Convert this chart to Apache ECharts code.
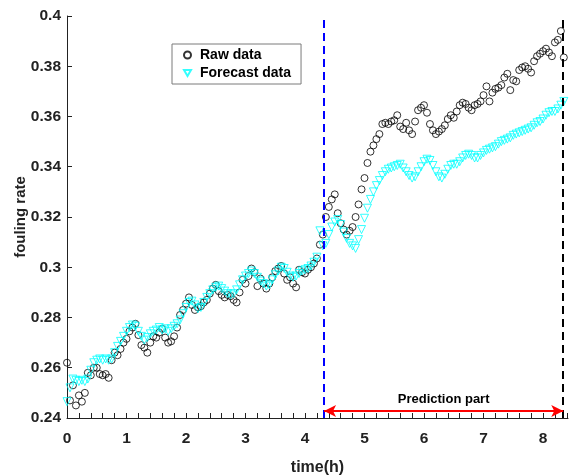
<!DOCTYPE html>
<html><head><meta charset="utf-8">
<script src="https://cdn.jsdelivr.net/npm/echarts@6/dist/echarts.min.js"></script>
<style>html,body{margin:0;padding:0;background:#fff}#c{width:570px;height:476px}</style>
</head><body><div id="c"></div>
<script>
const timeH = [
0,0.05,0.1,0.15,0.2,0.25,0.3,0.35,0.4,0.45,
0.5,0.55,0.6,0.65,0.7,0.75,0.8,0.85,0.9,0.95,
1,1.05,1.1,1.15,1.2,1.25,1.3,1.35,1.4,1.45,
1.5,1.55,1.6,1.65,1.7,1.75,1.8,1.85,1.9,1.95,
2,2.05,2.1,2.15,2.2,2.25,2.3,2.35,2.4,2.45,
2.5,2.55,2.6,2.65,2.7,2.75,2.8,2.85,2.9,2.95,
3,3.05,3.1,3.15,3.2,3.25,3.3,3.35,3.4,3.45,
3.5,3.55,3.6,3.65,3.7,3.75,3.8,3.85,3.9,3.95,
4,4.05,4.1,4.15,4.2,4.25,4.3,4.35,4.4,4.45,
4.5,4.55,4.6,4.65,4.7,4.75,4.8,4.85,4.9,4.95,
5,5.05,5.1,5.15,5.2,5.25,5.3,5.35,5.4,5.45,
5.5,5.55,5.6,5.65,5.7,5.75,5.8,5.85,5.9,5.95,
6,6.05,6.1,6.15,6.2,6.25,6.3,6.35,6.4,6.45,
6.5,6.55,6.6,6.65,6.7,6.75,6.8,6.85,6.9,6.95,
7,7.05,7.1,7.15,7.2,7.25,7.3,7.35,7.4,7.45,
7.5,7.55,7.6,7.65,7.7,7.75,7.8,7.85,7.9,7.95,
8,8.05,8.1,8.15,8.2,8.25,8.3,8.35];

const rawData = [
0.2620,0.2470,0.2530,0.2450,0.2490,0.2465,0.2500,0.2580,0.2570,0.2600,
0.2600,0.2575,0.2570,0.2575,0.2560,0.2630,0.2660,0.2650,0.2675,0.2700,
0.2715,0.2745,0.2760,0.2775,0.2730,0.2690,0.2680,0.2660,0.2700,0.2725,
0.2720,0.2740,0.2755,0.2720,0.2700,0.2705,0.2725,0.2760,0.2810,0.2830,
0.2855,0.2880,0.2850,0.2830,0.2840,0.2845,0.2860,0.2870,0.2895,0.2915,
0.2930,0.2905,0.2890,0.2880,0.2890,0.2885,0.2870,0.2860,0.2900,0.2950,
0.2935,0.2965,0.2995,0.2980,0.2925,0.2955,0.2935,0.2915,0.2935,0.2960,
0.2985,0.2995,0.3005,0.2975,0.2950,0.2960,0.2935,0.2920,0.2990,0.2980,
0.2975,0.2990,0.3000,0.3015,0.3035,0.3090,0.3130,0.3200,0.3240,0.3270,
0.3290,0.3215,0.3175,0.3150,0.3130,0.3145,0.3160,0.3200,0.3250,0.3310,
0.3355,0.3415,0.3460,0.3485,0.3510,0.3530,0.3570,0.3575,0.3570,0.3580,
0.3585,0.3605,0.3560,0.3550,0.3575,0.3545,0.3530,0.3580,0.3625,0.3635,
0.3645,0.3615,0.3570,0.3545,0.3530,0.3540,0.3550,0.3565,0.3590,0.3605,
0.3595,0.3620,0.3645,0.3655,0.3650,0.3635,0.3625,0.3645,0.3650,0.3660,
0.3685,0.3720,0.3660,0.3695,0.3710,0.3715,0.3725,0.3755,0.3770,0.3705,
0.3745,0.3740,0.3785,0.3795,0.3800,0.3790,0.3775,0.3820,0.3840,0.3850,
0.3860,0.3870,0.3855,0.3840,0.3895,0.3905,0.3940,0.3835];

const forecastData = [
0.2465,0.2520,0.2555,0.2550,0.2545,0.2550,0.2545,0.2555,0.2590,0.2620,
0.2630,0.2635,0.2630,0.2635,0.2630,0.2635,0.2660,0.2685,0.2705,0.2725,
0.2745,0.2760,0.2770,0.2765,0.2745,0.2725,0.2710,0.2720,0.2735,0.2745,
0.2750,0.2760,0.2750,0.2755,0.2745,0.2755,0.2765,0.2775,0.2790,0.2815,
0.2840,0.2860,0.2865,0.2850,0.2835,0.2840,0.2860,0.2880,0.2895,0.2910,
0.2920,0.2925,0.2915,0.2905,0.2895,0.2890,0.2895,0.2910,0.2930,0.2950,
0.2965,0.2975,0.2985,0.2975,0.2960,0.2945,0.2935,0.2925,0.2930,0.2950,
0.2970,0.2985,0.3000,0.2995,0.2980,0.2965,0.2960,0.2965,0.2975,0.2985,
0.2990,0.2995,0.3005,0.3020,0.3040,0.3145,0.3085,0.3095,0.3130,0.3160,
0.3180,0.3190,0.3170,0.3140,0.3115,0.3095,0.3085,0.3075,0.3110,0.3150,
0.3195,0.3235,0.3270,0.3300,0.3325,0.3345,0.3365,0.3380,0.3390,0.3395,
0.3400,0.3405,0.3410,0.3395,0.3380,0.3365,0.3355,0.3360,0.3380,0.3400,
0.3420,0.3430,0.3425,0.3405,0.3380,0.3360,0.3355,0.3370,0.3390,0.3405,
0.3410,0.3410,0.3420,0.3435,0.3445,0.3450,0.3445,0.3435,0.3435,0.3445,
0.3455,0.3465,0.3470,0.3475,0.3480,0.3490,0.3500,0.3505,0.3510,0.3515,
0.3525,0.3530,0.3535,0.3540,0.3545,0.3550,0.3555,0.3565,0.3575,0.3580,
0.3590,0.3605,0.3615,0.3620,0.3620,0.3630,0.3645,0.3660];

const xTickLabels = [0,1,2,3,4,5,6,7,8];
const xTickMarks = [0,0.2,0.4,0.6,0.8,1,1.2,1.4,1.6,1.8,2,2.2,2.4,2.6,2.8,3,3.2,3.4,3.6,3.8,4,4.2,4.4,4.6,4.8,5,5.2,5.4,5.6,5.8,6,6.2,6.4,6.6,6.8,7,7.2,7.4,7.6,7.8,8,8.2,8.4];
const predictionStart = 4.32;
const predictionEnd = 8.34;
const arrowLevel = 0.2428;
const seriesNames = ['Raw data', 'Forecast data'];

const pair = (xs, ys) => xs.map((x, i) => [x, ys[i]]);
const FONT = '"Liberation Sans", Arial, sans-serif';
const DOWN_TRIANGLE = 'path://M0,0L10,0L5,8.66Z';

const chart = echarts.init(document.getElementById('c'), null, {renderer: 'canvas'});
chart.setOption({
  animation: false,
  backgroundColor: '#fff',
  grid: {left: 67, right: 2, top: 16, bottom: 58, containLabel: false, outerBoundsMode: 'none'},
  legend: {
    data: [{name: seriesNames[0], icon: 'circle'}, {name: seriesNames[1], icon: DOWN_TRIANGLE}],
    orient: 'vertical',
    left: 172, top: 44,
    padding: [4, 10, 4, 11],
    itemGap: 4,
    itemWidth: 7, itemHeight: 7,
    borderColor: '#7a7a7a', borderWidth: 1,
    backgroundColor: '#fff',
    textStyle: {fontFamily: FONT, fontWeight: 'bold', fontSize: 14, color: '#000', padding: [0,0,0,4], lineHeight: 14}
  },
  xAxis: {
    type: 'value', min: 0, max: 8.42,
    name: 'time(h)', nameLocation: 'middle', nameGap: 42, nameMoveOverlap: false,
    nameTextStyle: {fontFamily: FONT, fontWeight: 'bold', fontSize: 16, color: '#222'},
    axisLine: {show: true, onZero: false, lineStyle: {color: '#222', width: 1}},
    axisTick: {show: true, inside: true, length: 5, customValues: xTickMarks, lineStyle: {color: '#222'}},
    axisLabel: {customValues: xTickLabels, margin: 13, fontFamily: FONT, fontWeight: 'bold', fontSize: 15.5, color: '#222'},
    splitLine: {show: false}
  },
  yAxis: {
    type: 'value', min: 0.24, max: 0.4, interval: 0.02,
    name: 'fouling rate', nameLocation: 'middle', nameGap: 39, nameRotate: 90, nameMoveOverlap: false,
    nameTextStyle: {fontFamily: FONT, fontWeight: 'bold', fontSize: 15, color: '#222'},
    axisLine: {show: true, lineStyle: {color: '#222', width: 1}},
    axisTick: {show: true, inside: true, length: 5, lineStyle: {color: '#222'}},
    axisLabel: {margin: 6, fontFamily: FONT, fontWeight: 'bold', fontSize: 15.5, color: '#222',
      formatter: v => String(+v.toFixed(2))},
    splitLine: {show: false}
  },
  series: [
    {
      name: seriesNames[0], type: 'scatter', data: pair(timeH, rawData),
      symbol: 'circle', symbolSize: 7,
      itemStyle: {color: 'rgba(0,0,0,0)', borderColor: '#000', borderWidth: 1},
      z: 2
    },
    {
      name: seriesNames[1], type: 'scatter', data: pair(timeH, forecastData),
      symbol: 'triangle', symbolSize: 8, symbolRotate: 180,
      itemStyle: {color: 'rgba(0,0,0,0)', borderColor: '#00ffff', borderWidth: 1},
      z: 3
    },
    {
      name: 'guides', type: 'scatter', data: [], silent: true,
      markLine: {
        silent: true, animation: false,
        symbol: ['none', 'none'],
        label: {show: false},
        data: [
          {xAxis: predictionStart, lineStyle: {color: '#0000ff', width: 2, type: [8, 5]}},
          {xAxis: predictionEnd, lineStyle: {color: '#000', width: 2, type: [8, 5]}},
          [
            {coord: [predictionStart, arrowLevel], symbol: 'arrow', symbolSize: [9, 12],
             lineStyle: {color: '#ff0000', width: 2, type: 'solid'},
             label: {show: true, position: 'middle', formatter: 'Prediction part', distance: 5,
               fontFamily: FONT, fontWeight: 'bold', fontSize: 13, color: '#000'}},
            {coord: [predictionEnd, arrowLevel], symbol: 'arrow', symbolSize: [9, 12]}
          ]
        ]
      }
    }
  ]
});
</script>
</body></html>
